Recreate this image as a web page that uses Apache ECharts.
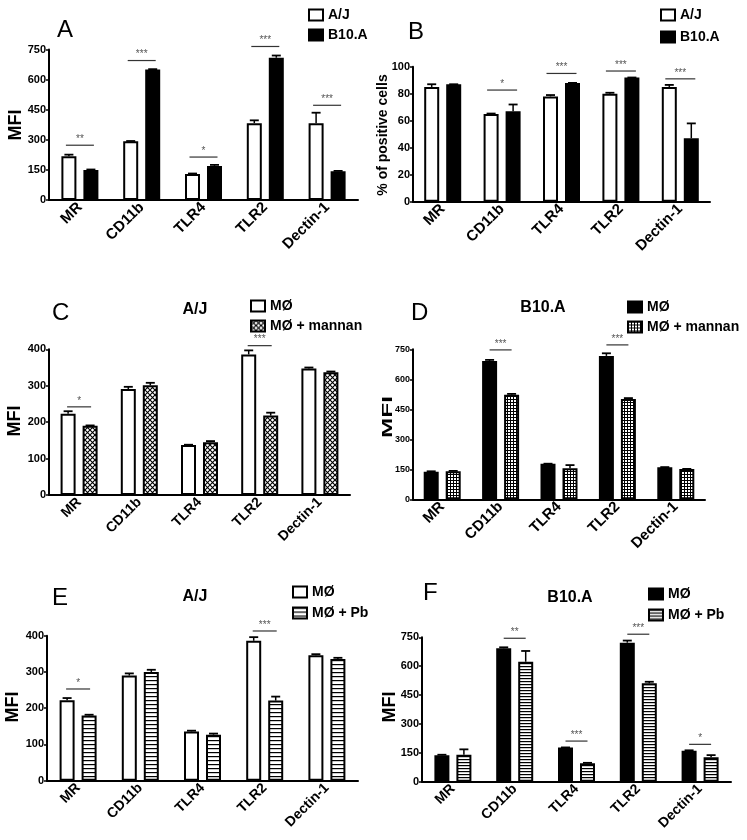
<!DOCTYPE html>
<html><head><meta charset="utf-8">
<script src="https://cdn.jsdelivr.net/npm/echarts@6/dist/echarts.min.js"></script>
<style>html,body{margin:0;padding:0;background:#fff}#c{width:747px;height:840px}</style>
</head><body><div id="c"></div>
<script>
const categories = ['MR', 'CD11b', 'TLR4', 'TLR2', 'Dectin-1'];

// Panel A (MFI)
const aAJ = [218, 293, 129, 383, 383];
const aAJHi = [226, 294, 132, 397, 435];
const aB10 = [150, 650, 170, 709, 143];
const aB10Hi = [152, 652, 175, 720, 145];
const aSigCat = [0, 1, 2, 3, 4];
const aSigY = [273, 695, 214, 765, 472];
const aSigTxt = ['**', '***', '*', '***', '***'];

// Panel B (% of positive cells)
const bAJ = [85, 65, 78, 80, 85];
const bAJHi = [87, 65.3, 79, 80.7, 86.5];
const bB10 = [87, 67, 88, 92, 47];
const bB10Hi = [87, 72, 88, 92, 58];
const bSigCat = [1, 2, 3, 4];
const bSigY = [82.7, 95, 96.8, 91];
const bSigTxt = ['*', '***', '***', '***'];

// Panel C (A/J, mannan)
const cM = [223, 291, 137, 386, 347];
const cMHi = [230, 297, 138, 397, 350];
const cMan = [190, 301, 145, 218, 337];
const cManHi = [191, 308, 148, 226, 339];
const cSigCat = [0, 3];
const cSigY = [242, 410];
const cSigTxt = ['*', '***'];

// Panel D (B10.A, mannan)
const dM = [138, 692, 178, 717, 160];
const dMHi = [140, 697, 178, 730, 161];
const dMan = [140, 523, 155, 502, 151];
const dManHi = [142, 527, 171, 506, 152];
const dSigCat = [1, 3];
const dSigY = [747, 772];
const dSigTxt = ['***', '***'];

// Panel E (A/J, Pb)
const eM = [222, 290, 136, 386, 346];
const eMHi = [228, 296, 138, 396, 349];
const ePb = [180, 300, 127, 221, 336];
const ePbHi = [182, 306, 130, 232, 339];
const eSigCat = [0, 3];
const eSigY = [253, 413];
const eSigTxt = ['*', '***'];

// Panel F (B10.A, Pb)
const fM = [137, 693, 177, 722, 161];
const fMHi = [140, 698, 178, 733, 163];
const fPb = [140, 623, 96, 511, 127];
const fPbHi = [168, 679, 98, 519, 138];
const fSigCat = [1, 2, 3, 4];
const fSigY = [745, 211, 766, 194];
const fSigTxt = ['**', '***', '***', '*'];

const FONT = 'Liberation Sans, Arial, Helvetica, sans-serif';

function makePattern(kind) {
  const cv = document.createElement('canvas');
  let s;
  if (kind === 'cross') s = 5; else if (kind === 'grid') s = 3; else if (kind === 'hlines4') s = 4; else s = 3;
  cv.width = s; cv.height = s;
  const g = cv.getContext('2d');
  g.fillStyle = '#fff'; g.fillRect(0, 0, s, s);
  g.strokeStyle = '#000'; g.fillStyle = '#000';
  if (kind === 'cross') {
    g.lineWidth = 1.1;
    g.beginPath();
    g.moveTo(0, 0); g.lineTo(s, s);
    g.moveTo(s, 0); g.lineTo(0, s);
    g.stroke();
  } else if (kind === 'grid') {
    g.fillRect(0, 0, s, 1);
    g.fillRect(0, 0, 1, s);
  } else {
    g.fillRect(0, 0, s, 1.2);
  }
  return { image: cv, repeat: 'repeat' };
}

const WHITE = '#ffffff', BLACK = '#000000';
const panels = [
  { left: 49, top: 49.5, width: 309, height: 150.5, max: 750, interval: 150, lblSize: 15, tickSize: 11,
    s1: { name: 'A|A/J', color: WHITE, v: aAJ, hi: aAJHi },
    s2: { name: 'A|B10.A', color: BLACK, v: aB10, hi: aB10Hi },
    sig: { cat: aSigCat, y: aSigY, t: aSigTxt }, sigHalf: 14,
    leg: { left: 308, top: 8, gap: 6 } },
  { left: 413, top: 66.7, width: 297, height: 135, max: 100, interval: 20, lblSize: 15, tickSize: 11,
    s1: { name: 'B|A/J', color: WHITE, v: bAJ, hi: bAJHi },
    s2: { name: 'B|B10.A', color: BLACK, v: bB10, hi: bB10Hi },
    sig: { cat: bSigCat, y: bSigY, t: bSigTxt }, sigHalf: 15,
    leg: { left: 660, top: 8, gap: 8 } },
  { left: 49, top: 349.3, width: 301, height: 145.7, max: 400, interval: 100, lblSize: 14, tickSize: 11,
    s1: { name: 'C|MØ', color: WHITE, v: cM, hi: cMHi },
    s2: { name: 'C|MØ + mannan', color: makePattern('cross'), v: cMan, hi: cManHi },
    sig: { cat: cSigCat, y: cSigY, t: cSigTxt }, sigHalf: 12,
    leg: { left: 250, top: 299, gap: 6 } },
  { left: 413, top: 349.3, width: 292, height: 150, max: 750, interval: 150, lblSize: 15, tickSize: 9,
    s1: { name: 'D|MØ', color: BLACK, v: dM, hi: dMHi },
    s2: { name: 'D|MØ + mannan', color: makePattern('grid'), v: dMan, hi: dManHi },
    sig: { cat: dSigCat, y: dSigY, t: dSigTxt }, sigHalf: 11,
    leg: { left: 627, top: 300, gap: 6 } },
  { left: 47, top: 635.7, width: 311, height: 145, max: 400, interval: 100, lblSize: 14, tickSize: 11,
    s1: { name: 'E|MØ', color: WHITE, v: eM, hi: eMHi },
    s2: { name: 'E|MØ + Pb', color: makePattern('hlines4'), v: ePb, hi: ePbHi },
    sig: { cat: eSigCat, y: eSigY, t: eSigTxt }, sigHalf: 12,
    leg: { left: 292, top: 585, gap: 7 } },
  { left: 422, top: 637.3, width: 309, height: 144.4, max: 750, interval: 150, lblSize: 14, tickSize: 11,
    s1: { name: 'F|MØ', color: BLACK, v: fM, hi: fMHi },
    s2: { name: 'F|MØ + Pb', color: makePattern('hlines3'), v: fPb, hi: fPbHi },
    sig: { cat: fSigCat, y: fSigY, t: fSigTxt }, sigHalf: 11,
    leg: { left: 648, top: 587, gap: 7 } }
];

const BAR_W = 15, OFFSET = 11;
const grid = [], xAxis = [], yAxis = [], series = [], legend = [];

function errSeries(i, vals, his, side) {
  return {
    type: 'custom', xAxisIndex: i, yAxisIndex: i, z: 5, clip: false, silent: true,
    data: vals.map((v, k) => [k, v, his[k]]),
    encode: { x: 0, y: [1, 2] },
    renderItem: function (params, api) {
      const c = api.coord([api.value(0), api.value(1)]);
      const h = api.coord([api.value(0), api.value(2)]);
      const x = c[0] + side * OFFSET;
      return { type: 'group', children: [
        { type: 'line', shape: { x1: x, y1: c[1], x2: x, y2: h[1] }, style: { stroke: '#000', lineWidth: 1.5 } },
        { type: 'line', shape: { x1: x - 4.5, y1: h[1], x2: x + 4.5, y2: h[1] }, style: { stroke: '#000', lineWidth: 1.8 } }
      ] };
    }
  };
}

panels.forEach((p, i) => {
  grid.push({ left: p.left, top: p.top, width: p.width, height: p.height });
  xAxis.push({
    type: 'category', gridIndex: i, data: categories,
    axisLine: { lineStyle: { color: '#000', width: 2 } },
    axisTick: { show: false },
    axisLabel: { rotate: 45, interval: 0, fontWeight: 'bold', fontSize: p.lblSize, color: '#000', fontFamily: FONT, margin: 5 }
  });
  yAxis.push({
    type: 'value', gridIndex: i, min: 0, max: p.max, interval: p.interval,
    splitLine: { show: false },
    axisLine: { show: true, lineStyle: { color: '#000', width: 2 } },
    axisTick: { show: true, length: 3, lineStyle: { color: '#000', width: 1.5 } },
    axisLabel: { fontSize: p.tickSize, fontWeight: 'bold', color: '#000', fontFamily: FONT, margin: 3 }
  });
  [p.s1, p.s2].forEach(s => {
    series.push({
      type: 'bar', name: s.name, xAxisIndex: i, yAxisIndex: i, data: s.v,
      barWidth: BAR_W, barGap: ((2 * OFFSET - BAR_W) / BAR_W * 100) + '%', silent: true,
      itemStyle: { color: s.color, borderColor: '#000', borderWidth: 2 }
    });
  });
  series.push(errSeries(i, p.s1.v, p.s1.hi, -1));
  series.push(errSeries(i, p.s2.v, p.s2.hi, 1));
  const half = p.sigHalf;
  series.push({
    type: 'custom', xAxisIndex: i, yAxisIndex: i, z: 6, clip: false, silent: true,
    data: p.sig.cat.map((c, k) => [c, p.sig.y[k], p.sig.t[k]]),
    encode: { x: 0, y: 1 },
    renderItem: function (params, api) {
      const c = api.coord([api.value(0), api.value(1)]);
      const txt = p.sig.t[params.dataIndex];
      return { type: 'group', children: [
        { type: 'line', shape: { x1: c[0] - half, y1: c[1], x2: c[0] + half, y2: c[1] }, style: { stroke: '#333', lineWidth: 1.2 } },
        { type: 'text', x: c[0], y: c[1] - 1, style: { text: txt, fill: '#555', font: '10px ' + FONT, textAlign: 'center', textVerticalAlign: 'bottom' } }
      ] };
    }
  });
  legend.push({
    left: p.leg.left, top: p.leg.top, orient: 'vertical', padding: 0,
    itemWidth: 14, itemHeight: 11, itemGap: p.leg.gap, icon: 'rect', selectedMode: false,
    data: [p.s1.name, p.s2.name],
    formatter: n => n.split('|')[1],
    textStyle: { fontSize: 14, fontWeight: 'bold', color: '#000', fontFamily: FONT }
  });
});

function letter(t, x, y) {
  return { type: 'text', x: x, y: y, style: { text: t, fill: '#000', font: '24px ' + FONT, textAlign: 'left', textVerticalAlign: 'middle' } };
}
function sub(t, x, y) {
  return { type: 'text', x: x, y: y, style: { text: t, fill: '#000', font: 'bold 16px ' + FONT, textAlign: 'center', textVerticalAlign: 'middle' } };
}
function yname(t, x, y, size, sx, sy) {
  return { type: 'text', x: x, y: y, rotation: Math.PI / 2, scaleX: sx || 1, scaleY: sy || 1,
    style: { text: t, fill: '#000', font: 'bold ' + size + 'px ' + FONT, textAlign: 'center', textVerticalAlign: 'middle' } };
}

const graphic = [
  letter('A', 57, 30), letter('B', 408, 32), letter('C', 52, 313), letter('D', 411, 313),
  letter('E', 52, 598), letter('F', 423, 593),
  sub('A/J', 195, 310), sub('B10.A', 543, 308), sub('A/J', 195, 597), sub('B10.A', 570, 598),
  yname('MFI', 16, 125, 18), yname('% of positive cells', 383, 135, 14),
  yname('MFI', 15, 421, 18), yname('MFI', 388, 417, 18, 1.35, 0.8),
  yname('MFI', 13, 707, 18), yname('MFI', 390, 707, 18)
];

const chart = echarts.init(document.getElementById('c'), null, { renderer: 'canvas' });
chart.setOption({
  animation: false,
  backgroundColor: '#fff',
  textStyle: { fontFamily: FONT },
  grid: grid, xAxis: xAxis, yAxis: yAxis, series: series, legend: legend, graphic: graphic
});
</script>
</body></html>
